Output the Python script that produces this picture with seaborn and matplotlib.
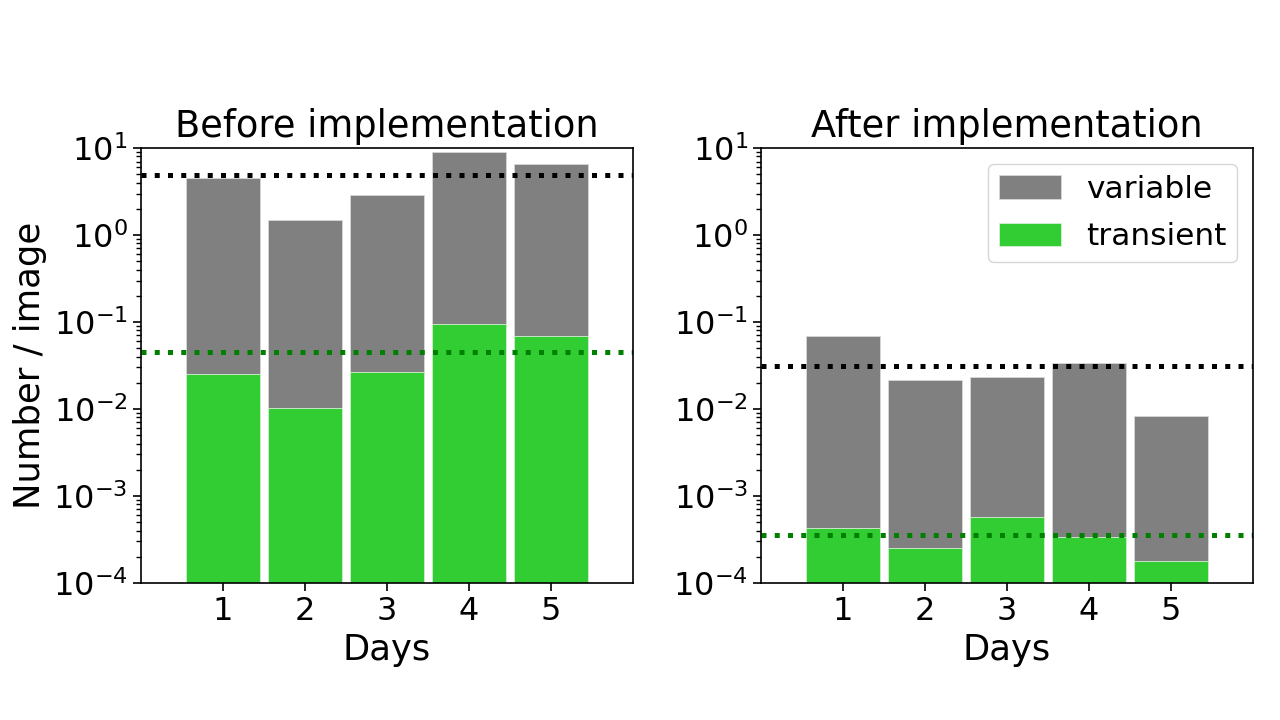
import numpy as np
import pandas as pd
import matplotlib
matplotlib.use("Agg")
import matplotlib.pyplot as plt
import seaborn as sns

days = ["1", "2", "3", "4", "5"]
before_variable = [4.5, 1.5, 2.9, 9.0, 6.5]
before_transient = [0.025, 0.0102, 0.0266, 0.096, 0.069]
after_variable = [0.069, 0.0214, 0.0231, 0.0335, 0.0083]
after_transient = [0.00043, 0.00025, 0.00058, 0.000335, 0.00018]
titles = ["Before implementation", "After implementation"]

plt.rcParams['font.family'] = ['DejaVu Sans']

fig = plt.figure(figsize=(12.8, 7.2), dpi=100)
ax1 = fig.add_axes([0.110, 0.1903, 0.3845, 0.6041])
ax2 = fig.add_axes([0.5945, 0.1903, 0.3845, 0.6041])

panels = [(ax1, before_variable, before_transient, titles[0]),
          (ax2, after_variable, after_transient, titles[1])]

for ax, var, tra, title in panels:
    df = pd.DataFrame({"day": days, "variable": var, "transient": tra})
    sns.barplot(data=df, x="day", y="variable", ax=ax, color="#808080",
                saturation=1, width=0.9, label="variable",
                edgecolor="#d8d8d8", linewidth=0.6)
    sns.barplot(data=df, x="day", y="transient", ax=ax, color="#32CD32",
                saturation=1, width=0.9, label="transient",
                edgecolor="#d8f0d8", linewidth=0.6)
    ax.set_yscale("log")
    ax.set_ylim(1e-4, 1e1)
    ax.set_xlim(-1, 5)
    ax.axhline(np.mean(var), color="black", linestyle=":", linewidth=3.6)
    ax.axhline(np.mean(tra), color="green", linestyle=":", linewidth=3.6)
    ax.set_title(title, fontsize=26.5, pad=8)
    ax.set_xlabel("Days", fontsize=25.5)
    ax.set_ylabel("")
    ax.tick_params(axis="both", which="major", labelsize=23, length=6, width=1.2)
    ax.tick_params(axis="y", which="minor", length=3.5, width=1)
    for s in ax.spines.values():
        s.set_linewidth(1.2)
    if ax.get_legend() is not None:
        ax.get_legend().remove()

ax1.set_ylabel("Number / image", fontsize=25.5)
ax2.legend(loc="upper right", fontsize=22.5, handlelength=2.0,
           handleheight=0.8, borderpad=0.35, labelspacing=0.6, handletextpad=0.8)

fig.savefig("out.png", dpi=100)
